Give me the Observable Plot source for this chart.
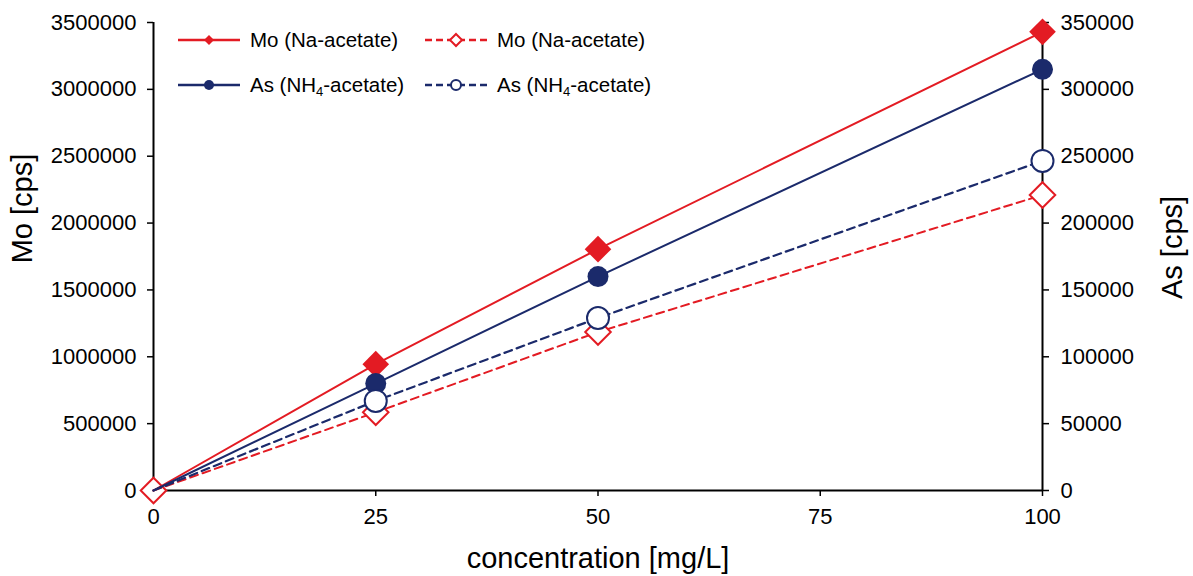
<!DOCTYPE html>
<html><head><meta charset="utf-8">
<script src="https://cdn.jsdelivr.net/npm/d3@7"></script>
<script src="https://cdn.jsdelivr.net/npm/@observablehq/plot@0.6"></script>
<style>
body{margin:0;background:#fff;font-family:"Liberation Sans",Arial,Helvetica,sans-serif;}
#wrap{position:relative;width:1193px;height:576px;overflow:hidden;background:#fff}
.item{position:absolute;display:flex;align-items:center;height:30px;font-size:20.5px;color:#000;white-space:nowrap}
.item svg{margin-right:10px;overflow:visible}
sub{font-size:13px;vertical-align:-4px;line-height:0}
</style></head><body><div id="wrap"></div>
<script>
// ---- data ----
const conc = [0, 25, 50, 100];
const xTicks = [0, 25, 50, 75, 100];
const moNaSolid = [0, 945000, 1805000, 3430000];      // Mo [cps], left axis
const asNH4Solid = [0, 80000, 160000, 315000];        // As [cps], right axis
const moNaDashed = [0, 585000, 1185000, 2210000];     // Mo [cps], left axis
const asNH4Dashed = [0, 67000, 129000, 246500];       // As [cps], right axis
const leftTicks = [0, 500000, 1000000, 1500000, 2000000, 2500000, 3000000, 3500000];
const rightTicks = [0, 50000, 100000, 150000, 200000, 250000, 300000, 350000];
const seriesNames = ["Mo (Na-acetate)", "As (NH<sub>4</sub>-acetate)"];

const RED = "#e31b23", NAVY = "#1b2a6b";
const ratio = leftTicks[leftTicks.length-1] / rightTicks[rightTicks.length-1];

const rows = (ys, k = 1) => conc.map((x, i) => ({x, y: ys[i] * k}));
const moS = rows(moNaSolid), moD = rows(moNaDashed);
const asS = rows(asNH4Solid, ratio), asD = rows(asNH4Dashed, ratio);
const nz = a => a.filter(d => d.x !== 0);

const font = '"Liberation Sans", Arial, Helvetica, sans-serif';
const chart = Plot.plot({
  width: 1193, height: 576,
  marginTop: 22, marginRight: 151, marginBottom: 86, marginLeft: 153,
  style: {fontFamily: font, fontSize: "22px", color: "#000", background: "#fff", overflow: "visible"},
  x: {domain: [0, 100]},
  y: {domain: [0, leftTicks[leftTicks.length-1]]},
  marks: [
    Plot.axisX({ticks: xTicks, tickSize: 6, tickPadding: 12, fontSize: 22, label: null, strokeWidth: 1.5, tickFormat: d3.format("d")}),
    Plot.axisY({ticks: leftTicks, tickSize: 6, tickPadding: 11, label: null, strokeWidth: 1.5, tickFormat: d3.format("d")}),
    Plot.axisY({anchor: "right", ticks: rightTicks.map(v => v * ratio), tickSize: 6, tickPadding: 12, label: null, strokeWidth: 1.5,
      tickFormat: d => d3.format("d")(Math.round(d / ratio))}),
    Plot.ruleX([0], {stroke: "#000", strokeWidth: 2}),
    Plot.ruleX([100], {stroke: "#000", strokeWidth: 2}),
    Plot.ruleY([0], {stroke: "#000", strokeWidth: 2}),
    Plot.dot(moD.filter(d => d.x === 0), {x: "x", y: "y", symbol: "diamond2", r: 11.5, fill: "#fff", stroke: RED, strokeWidth: 2}),
    Plot.line(moS, {x: "x", y: "y", stroke: RED, strokeWidth: 2}),
    Plot.line(asS, {x: "x", y: "y", stroke: NAVY, strokeWidth: 2}),
    Plot.line(moD, {x: "x", y: "y", stroke: RED, strokeWidth: 2, strokeDasharray: "8,5"}),
    Plot.line(asD, {x: "x", y: "y", stroke: NAVY, strokeWidth: 2.2, strokeDasharray: "8,5"}),
    Plot.dot(nz(moS), {x: "x", y: "y", symbol: "diamond2", r: 12, fill: RED}),
    Plot.dot(nz(moD), {x: "x", y: "y", symbol: "diamond2", r: 11.5, fill: "#fff", stroke: RED, strokeWidth: 2}),
    Plot.dot(nz(asS), {x: "x", y: "y", symbol: "circle", r: 10.5, fill: NAVY}),
    Plot.dot(nz(asD), {x: "x", y: "y", symbol: "circle", r: 11, fill: "#fff", stroke: NAVY, strokeWidth: 2}),
    Plot.text(["Mo [cps]"], {frameAnchor: "left", textAnchor: "middle", rotate: -90, dx: -131, dy: -48, fontSize: 29}),
    Plot.text(["As [cps]"], {frameAnchor: "right", textAnchor: "middle", rotate: -90, dx: 130, dy: -9, fontSize: 29}),
    Plot.text(["concentration [mg/L]"], {frameAnchor: "bottom", textAnchor: "middle", dy: 68, fontSize: 29, lineAnchor: "middle"})
  ]
});
const wrap = document.getElementById("wrap");
wrap.appendChild(chart);

// ---- legend (overlay) ----
function sym(kind, color, dashed) {
  const line = `<line x1="0" y1="15" x2="62" y2="15" stroke="${color}" stroke-width="2.5" ${dashed ? 'stroke-dasharray="7,4"' : ''}/>`;
  let m = "";
  if (kind === "diamond") {
    m = dashed
      ? `<path d="M31,9L37,15L31,21L25,15Z" fill="#fff" stroke="${color}" stroke-width="2"/>`
      : `<path d="M31,10L36,15L31,20L26,15Z" fill="${color}"/>`;
  } else {
    m = dashed
      ? `<circle cx="31" cy="15" r="5" fill="#fff" stroke="${color}" stroke-width="2"/>`
      : `<circle cx="31" cy="15" r="5" fill="${color}"/>`;
  }
  return `<svg width="62" height="30">${line}${m}</svg>`;
}
const items = [
  {left: 178, top: 25, kind: "diamond", color: RED, dashed: false, name: seriesNames[0]},
  {left: 178, top: 70, kind: "circle", color: NAVY, dashed: false, name: seriesNames[1]},
  {left: 425, top: 25, kind: "diamond", color: RED, dashed: true, name: seriesNames[0]},
  {left: 425, top: 70, kind: "circle", color: NAVY, dashed: true, name: seriesNames[1]}
];
for (const it of items) {
  const d = document.createElement("div");
  d.className = "item";
  d.style.left = it.left + "px";
  d.style.top = it.top + "px";
  d.innerHTML = sym(it.kind, it.color, it.dashed) + `<span>${it.name}</span>`;
  wrap.appendChild(d);
}
</script></body></html>
